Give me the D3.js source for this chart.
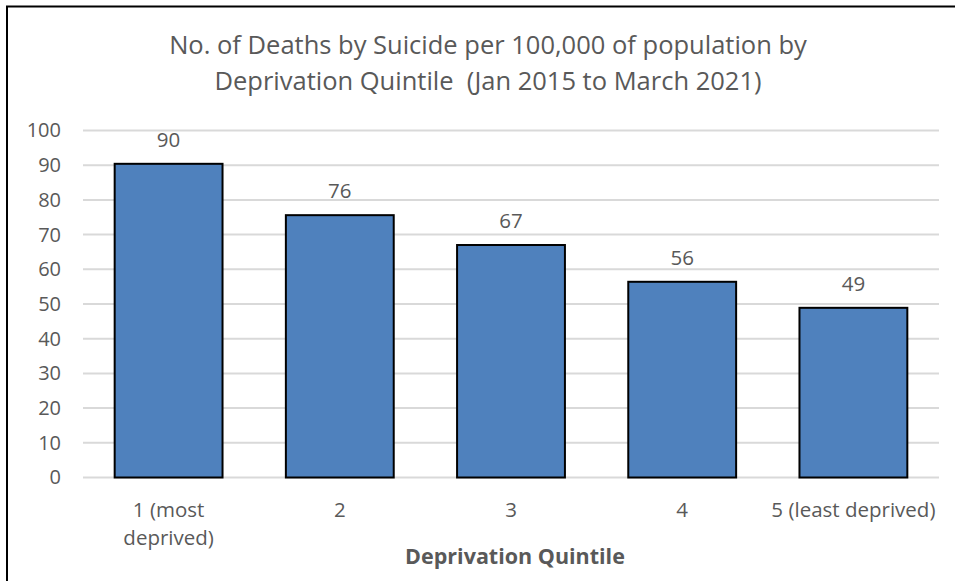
<!DOCTYPE html>
<html>
<head>
<meta charset="utf-8">
<script src="https://cdn.jsdelivr.net/npm/d3@7"></script>
<style>
  body { margin: 0; background: #fff; }
  text { font-family: "Open Sans", "Liberation Sans", sans-serif; fill: #595959; }
</style>
</head>
<body>
<div id="chart"></div>
<script>
const categories = ["1 (most deprived)", "2", "3", "4", "5 (least deprived)"];
const tickLabels = [["1 (most", "deprived)"], ["2"], ["3"], ["4"], ["5 (least deprived)"]];
const rates = [90.4, 75.6, 67.0, 56.4, 48.9];
const yTicks = [0, 10, 20, 30, 40, 50, 60, 70, 80, 90, 100];
const titleLines = ["No. of Deaths by Suicide per 100,000 of population by",
                    "Deprivation Quintile  (Jan 2015 to March 2021)"];

let svgWidth = 955,
    svgHeight = 581;
let margins = {left: 83, top: 130.5, right: 16, bottom: 103.5},
    width = svgWidth - margins.left - margins.right,
    height = svgHeight - margins.top - margins.bottom;

let svg = d3.select("#chart").append("svg")
    .attr("width", svgWidth)
    .attr("height", svgHeight);

// frame (top and left edge only, like the screenshot)
svg.append("path")
    .attr("d", `M7,581V6.5H955`)
    .attr("fill", "none")
    .attr("stroke", "#000")
    .attr("stroke-width", 2);

let g = svg.append("g")
    .attr("transform", `translate(${margins.left}, ${margins.top})`);

let x = d3.scaleBand().domain(categories).range([0, width]).paddingInner(0.37).paddingOuter(0.185),
    y = d3.scaleLinear().domain([0, 100]).range([height, 0]);

//Gridlines
g.append("g")
    .selectAll("line")
    .data(yTicks)
    .enter().append("line")
    .attr("x1", 0)
    .attr("x2", width)
    .attr("y1", d => y(d))
    .attr("y2", d => y(d))
    .attr("stroke", "#d9d9d9")
    .attr("stroke-width", 2);

//y axis labels
let yAxis = g.append("g")
    .call(d3.axisLeft(y).tickValues(yTicks).tickSize(0).tickPadding(22));
yAxis.select(".domain").remove();
yAxis.selectAll("text")
    .attr("font-size", 20)
    .attr("font-family", null)
    .style("fill", "#595959");

//bars
g.append("g")
    .selectAll("rect")
    .data(rates)
    .enter().append("rect")
    .attr("x", (d, i) => x(categories[i]))
    .attr("y", d => y(d))
    .attr("width", x.bandwidth())
    .attr("height", d => height - y(d))
    .attr("fill", "#4f81bd")
    .attr("stroke", "#000")
    .attr("stroke-width", 2);

//value labels
g.append("g")
    .selectAll("text")
    .data(rates)
    .enter().append("text")
    .attr("x", (d, i) => x(categories[i]) + x.bandwidth() / 2)
    .attr("y", d => y(d) - 17)
    .attr("text-anchor", "middle")
    .attr("font-size", 20.5)
    .text(d => Math.round(d));

//x tick labels
let xAxis = g.append("g")
    .attr("transform", `translate(0, ${height})`)
    .call(d3.axisBottom(x).tickSize(0).tickFormat(""));
xAxis.select(".domain").remove();
xAxis.selectAll(".tick").each(function (d, i) {
    let t = d3.select(this).append("text")
        .attr("text-anchor", "middle")
        .attr("font-size", 20.5)
        .attr("y", 39.5);
    tickLabels[i].forEach((s, j) => {
        t.append("tspan").attr("x", 0).attr("dy", j ? 28 : 0).text(s);
    });
});

//axis title
svg.append("text")
    .attr("x", margins.left + width / 2 + 4)
    .attr("y", 564)
    .attr("text-anchor", "middle")
    .attr("font-size", 21.5)
    .attr("font-weight", "bold")
    .text("Deprivation Quintile");

//chart title
svg.append("g")
    .selectAll("text")
    .data(titleLines)
    .enter().append("text")
    .attr("x", 488)
    .attr("y", (d, i) => 53.5 + i * 36.5)
    .attr("text-anchor", "middle")
    .attr("font-size", 25.5)
    .style("white-space", "pre")
    .text(String);
</script>
</body>
</html>
